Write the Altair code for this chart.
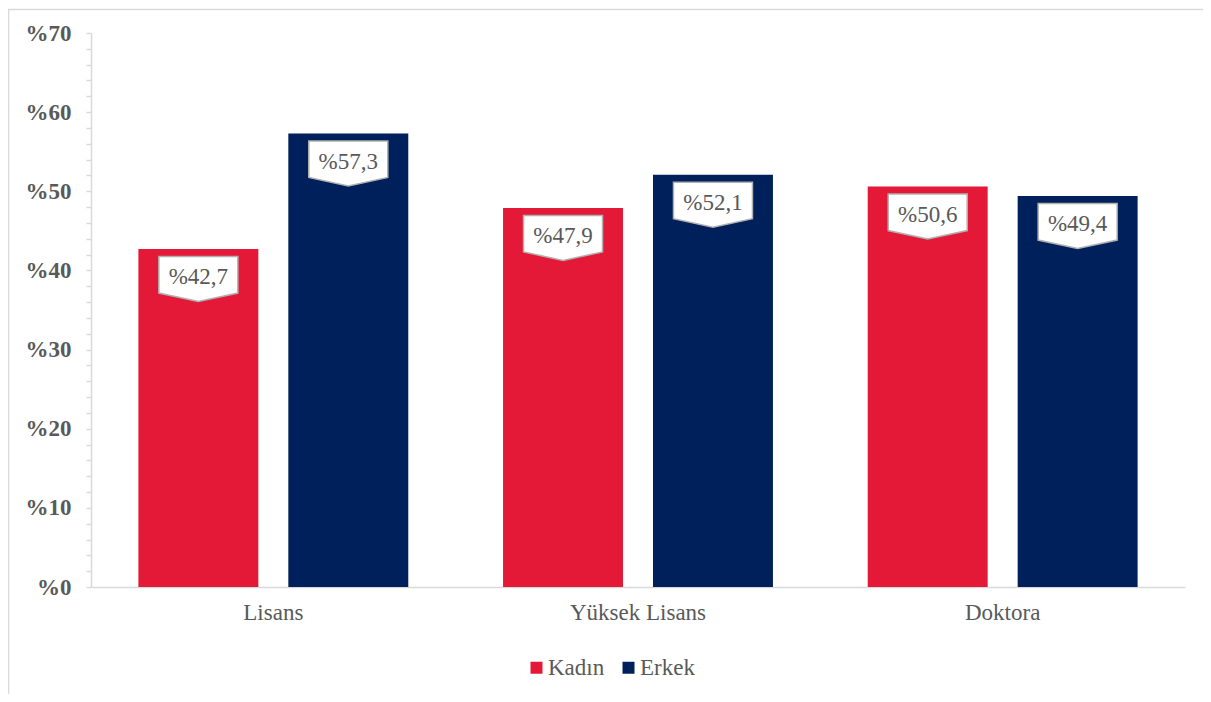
import altair as alt
import pandas as pd

categories = ["Lisans", "Yüksek Lisans", "Doktora"]
groups = ["Kadın", "Erkek"]
kadin = [42.7, 47.9, 50.6]
erkek = [57.3, 52.1, 49.4]
colors = ["#E31937", "#00205C"]
y_ticks = list(range(0, 71, 2))

rows = []
for c, k, e in zip(categories, kadin, erkek):
    for g, v in zip(groups, [k, e]):
        rows.append({"cat": c, "g": g, "v": v, "lab": "%" + f"{v:.1f}".replace(".", ",")})
df = pd.DataFrame(rows)

FONT = "Liberation Serif"
GRAY = "#595959"
LINE = "#d9d9d9"

W, H = 1094, 554
PAD = {"left": 83, "top": 25, "right": 18, "bottom": 107}

base = alt.Chart(df).encode(
    x=alt.X("cat:N", sort=categories, title=None,
            scale=alt.Scale(paddingInner=0, paddingOuter=0),
            axis=alt.Axis(labelAngle=0, ticks=False, labelFont=FONT, labelFontSize=23,
                          labelColor=GRAY, labelPadding=14, domainColor=LINE,
                          domainWidth=1.5)),
    xOffset=alt.XOffset("g:N", sort=groups,
                        scale=alt.Scale(paddingInner=0.2, paddingOuter=0.316)),
    y=alt.Y("v:Q", title=None, scale=alt.Scale(domain=[0, 70], nice=False),
            axis=alt.Axis(values=y_ticks,
                          labelExpr="datum.value % 10 == 0 ? '%' + datum.value : ''",
                          labelFont=FONT, labelFontSize=23, labelFontWeight="bold",
                          labelColor=GRAY, labelPadding=15, tickSize=5, tickColor=LINE,
                          tickWidth=1.5, domainColor=LINE, domainWidth=1.5, grid=False)),
)

bars = base.mark_bar().encode(
    color=alt.Color("g:N", sort=groups, scale=alt.Scale(domain=groups, range=colors),
                    legend=alt.Legend(title=None, orient="none", legendX=434, legendY=623,
                                      direction="horizontal", symbolType="square",
                                      symbolSize=144, symbolStrokeWidth=0,
                                      labelFont=FONT, labelFontSize=23, labelColor=GRAY,
                                      labelOffset=0, columnPadding=12, padding=0))
)

shape = "M-0.9875,0.1875 L0.9875,0.1875 L0.9875,1.1 L0,1.3125 L-0.9875,1.1 Z"
callout = base.mark_point(shape=shape, size=6400, filled=True, fill="white",
                          stroke="#b0b0b0", strokeWidth=1.5, opacity=1)

text = base.mark_text(dy=28, baseline="middle", font=FONT, fontSize=23, color=GRAY).encode(
    text="lab:N")

one = alt.Data(values=[{}])
frame_left = alt.Chart(one).mark_rule(color=LINE, strokeWidth=1.5).encode(
    x=alt.value(-82.5), y=alt.value(-23.5), y2=alt.value(H + PAD["bottom"]))
frame_top = alt.Chart(one).mark_rule(color=LINE, strokeWidth=1.5).encode(
    x=alt.value(-83.25), x2=alt.value(W + PAD["right"]), y=alt.value(-23.5))

chart = alt.layer(frame_left, frame_top, bars, callout, text).properties(
    width=W, height=H, padding=PAD, autosize=alt.AutoSizeParams(type="none")
).configure_view(stroke=None)

chart.save("out.html", embed_options={"renderer": "svg", "actions": False})
